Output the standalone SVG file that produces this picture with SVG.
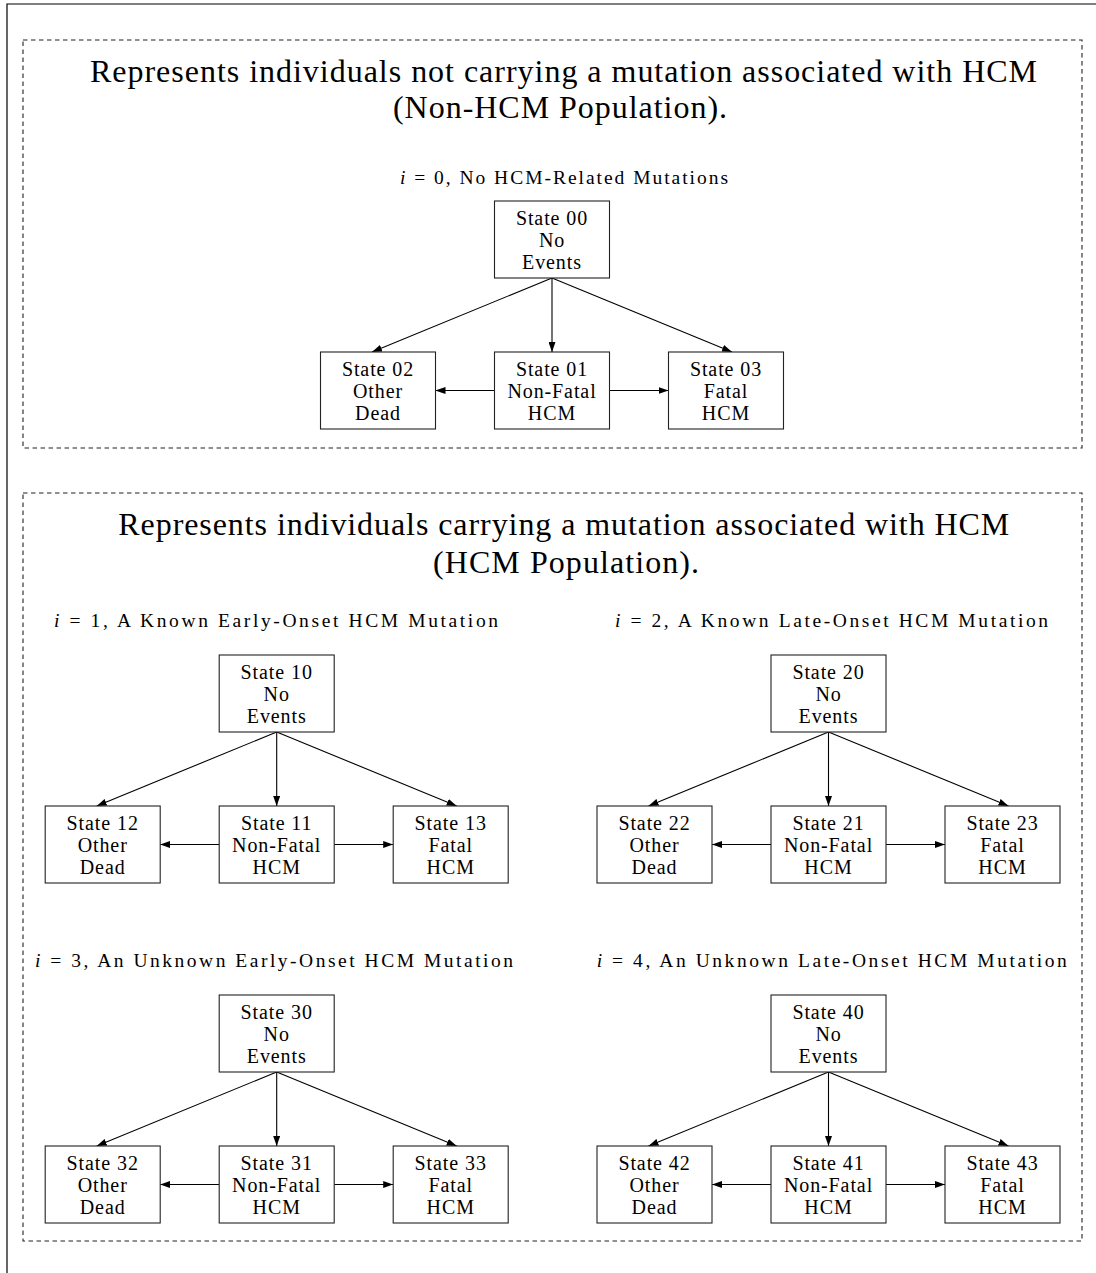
<svg xmlns="http://www.w3.org/2000/svg" width="1096" height="1273" viewBox="0 0 1096 1273">
  <style>
    .frame { fill: none; stroke: #000; stroke-width: 1.2; }
    .panel { fill: none; stroke: #222; stroke-width: 1.1; stroke-dasharray: 4.5 3.5; }
    .box { fill: #fff; stroke: #222; stroke-width: 1.1; }
    .edge { fill: none; stroke: #000; stroke-width: 1.1; }
    text { font-family: "Liberation Serif", "Times New Roman", serif; fill: #000; }
    .title { font-size: 32px; }
    .label { font-size: 19.5px; }
    .node { font-size: 20px; text-anchor: middle; letter-spacing: 0.9px; }
    .math { font-style: italic; }
  </style>
  <defs>
    <marker id="arrow" markerUnits="userSpaceOnUse" markerWidth="10" markerHeight="7" refX="10" refY="3.5" orient="auto">
      <path d="M0,0 L10,3.5 L0,7 z" fill="#000"/>
    </marker>
  </defs>

  <rect width="1096" height="1273" fill="#fff"/>
  <!-- outer frame: only the top and left edges fall inside the page -->
  <path class="frame" d="M7,1273 V4 H1096"/>

  <!-- population panels -->
  <rect class="panel" x="23" y="40" width="1059" height="408"/>
  <rect class="panel" x="23" y="493" width="1059" height="748"/>

  <!-- panel headings -->
  <g id="heading-nonhcm">
    <text class="title" x="90" y="81.7" textLength="947">Represents individuals not carrying a mutation associated with HCM</text>
    <text class="title" x="393" y="118.3" textLength="334">(Non-HCM Population).</text>
  </g>
  <g id="heading-hcm">
    <text class="title" x="118.3" y="535" textLength="891">Represents individuals carrying a mutation associated with HCM</text>
    <text class="title" x="433" y="573.3" textLength="266">(HCM Population).</text>
  </g>

  <!-- subgroup captions -->
  <text class="label" x="400" y="184.3" textLength="328"><tspan class="math">i</tspan> = 0, No HCM-Related Mutations</text>
  <text class="label" x="54" y="626.7" textLength="444"><tspan class="math">i</tspan> = 1, A Known Early-Onset HCM Mutation</text>
  <text class="label" x="615" y="626.7" textLength="433"><tspan class="math">i</tspan> = 2, A Known Late-Onset HCM Mutation</text>
  <text class="label" x="35" y="966.7" textLength="478"><tspan class="math">i</tspan> = 3, An Unknown Early-Onset HCM Mutation</text>
  <text class="label" x="596.7" y="966.7" textLength="470"><tspan class="math">i</tspan> = 4, An Unknown Late-Onset HCM Mutation</text>

  <!-- transitions -->
  <g id="connectors" marker-end="url(#arrow)">
    <!-- i = 0 -->
    <path class="edge" d="M552,278 V352"/>
    <path class="edge" d="M552,278 L372,352"/>
    <path class="edge" d="M552,278 L732,352"/>
    <path class="edge" d="M494.5,390.5 H435.5"/>
    <path class="edge" d="M609.5,390.5 H668.5"/>
    <!-- i = 1 -->
    <path class="edge" d="M276.7,732 V806"/>
    <path class="edge" d="M276.7,732 L96.7,806"/>
    <path class="edge" d="M276.7,732 L456.7,806"/>
    <path class="edge" d="M219.2,844.5 H160.2"/>
    <path class="edge" d="M334.2,844.5 H393.2"/>
    <!-- i = 2 -->
    <path class="edge" d="M828.5,732 V806"/>
    <path class="edge" d="M828.5,732 L648.5,806"/>
    <path class="edge" d="M828.5,732 L1008.5,806"/>
    <path class="edge" d="M771,844.5 H712"/>
    <path class="edge" d="M886,844.5 H945"/>
    <!-- i = 3 -->
    <path class="edge" d="M276.7,1072 V1146"/>
    <path class="edge" d="M276.7,1072 L96.7,1146"/>
    <path class="edge" d="M276.7,1072 L456.7,1146"/>
    <path class="edge" d="M219.2,1184.5 H160.2"/>
    <path class="edge" d="M334.2,1184.5 H393.2"/>
    <!-- i = 4 -->
    <path class="edge" d="M828.5,1072 V1146"/>
    <path class="edge" d="M828.5,1072 L648.5,1146"/>
    <path class="edge" d="M828.5,1072 L1008.5,1146"/>
    <path class="edge" d="M771,1184.5 H712"/>
    <path class="edge" d="M886,1184.5 H945"/>
  </g>

  <!-- i = 0 states -->
  <g id="state00">
    <rect class="box" x="494.5" y="201" width="115" height="77"/>
    <text class="node" x="552" y="224.5">State 00</text>
    <text class="node" x="552" y="246.7">No</text>
    <text class="node" x="552" y="269">Events</text>
  </g>
  <g id="state02">
    <rect class="box" x="320.5" y="352" width="115" height="77"/>
    <text class="node" x="378" y="375.5">State 02</text>
    <text class="node" x="378" y="397.7">Other</text>
    <text class="node" x="378" y="420">Dead</text>
  </g>
  <g id="state01">
    <rect class="box" x="494.5" y="352" width="115" height="77"/>
    <text class="node" x="552" y="375.5">State 01</text>
    <text class="node" x="552" y="397.7">Non-Fatal</text>
    <text class="node" x="552" y="420">HCM</text>
  </g>
  <g id="state03">
    <rect class="box" x="668.5" y="352" width="115" height="77"/>
    <text class="node" x="726" y="375.5">State 03</text>
    <text class="node" x="726" y="397.7">Fatal</text>
    <text class="node" x="726" y="420">HCM</text>
  </g>

  <!-- i = 1 states -->
  <g id="state10">
    <rect class="box" x="219.2" y="655" width="115" height="77"/>
    <text class="node" x="276.7" y="678.5">State 10</text>
    <text class="node" x="276.7" y="700.7">No</text>
    <text class="node" x="276.7" y="723">Events</text>
  </g>
  <g id="state12">
    <rect class="box" x="45.2" y="806" width="115" height="77"/>
    <text class="node" x="102.7" y="829.5">State 12</text>
    <text class="node" x="102.7" y="851.7">Other</text>
    <text class="node" x="102.7" y="874">Dead</text>
  </g>
  <g id="state11">
    <rect class="box" x="219.2" y="806" width="115" height="77"/>
    <text class="node" x="276.7" y="829.5">State 11</text>
    <text class="node" x="276.7" y="851.7">Non-Fatal</text>
    <text class="node" x="276.7" y="874">HCM</text>
  </g>
  <g id="state13">
    <rect class="box" x="393.2" y="806" width="115" height="77"/>
    <text class="node" x="450.7" y="829.5">State 13</text>
    <text class="node" x="450.7" y="851.7">Fatal</text>
    <text class="node" x="450.7" y="874">HCM</text>
  </g>

  <!-- i = 2 states -->
  <g id="state20">
    <rect class="box" x="771" y="655" width="115" height="77"/>
    <text class="node" x="828.5" y="678.5">State 20</text>
    <text class="node" x="828.5" y="700.7">No</text>
    <text class="node" x="828.5" y="723">Events</text>
  </g>
  <g id="state22">
    <rect class="box" x="597" y="806" width="115" height="77"/>
    <text class="node" x="654.5" y="829.5">State 22</text>
    <text class="node" x="654.5" y="851.7">Other</text>
    <text class="node" x="654.5" y="874">Dead</text>
  </g>
  <g id="state21">
    <rect class="box" x="771" y="806" width="115" height="77"/>
    <text class="node" x="828.5" y="829.5">State 21</text>
    <text class="node" x="828.5" y="851.7">Non-Fatal</text>
    <text class="node" x="828.5" y="874">HCM</text>
  </g>
  <g id="state23">
    <rect class="box" x="945" y="806" width="115" height="77"/>
    <text class="node" x="1002.5" y="829.5">State 23</text>
    <text class="node" x="1002.5" y="851.7">Fatal</text>
    <text class="node" x="1002.5" y="874">HCM</text>
  </g>

  <!-- i = 3 states -->
  <g id="state30">
    <rect class="box" x="219.2" y="995" width="115" height="77"/>
    <text class="node" x="276.7" y="1018.5">State 30</text>
    <text class="node" x="276.7" y="1040.7">No</text>
    <text class="node" x="276.7" y="1063">Events</text>
  </g>
  <g id="state32">
    <rect class="box" x="45.2" y="1146" width="115" height="77"/>
    <text class="node" x="102.7" y="1169.5">State 32</text>
    <text class="node" x="102.7" y="1191.7">Other</text>
    <text class="node" x="102.7" y="1214">Dead</text>
  </g>
  <g id="state31">
    <rect class="box" x="219.2" y="1146" width="115" height="77"/>
    <text class="node" x="276.7" y="1169.5">State 31</text>
    <text class="node" x="276.7" y="1191.7">Non-Fatal</text>
    <text class="node" x="276.7" y="1214">HCM</text>
  </g>
  <g id="state33">
    <rect class="box" x="393.2" y="1146" width="115" height="77"/>
    <text class="node" x="450.7" y="1169.5">State 33</text>
    <text class="node" x="450.7" y="1191.7">Fatal</text>
    <text class="node" x="450.7" y="1214">HCM</text>
  </g>

  <!-- i = 4 states -->
  <g id="state40">
    <rect class="box" x="771" y="995" width="115" height="77"/>
    <text class="node" x="828.5" y="1018.5">State 40</text>
    <text class="node" x="828.5" y="1040.7">No</text>
    <text class="node" x="828.5" y="1063">Events</text>
  </g>
  <g id="state42">
    <rect class="box" x="597" y="1146" width="115" height="77"/>
    <text class="node" x="654.5" y="1169.5">State 42</text>
    <text class="node" x="654.5" y="1191.7">Other</text>
    <text class="node" x="654.5" y="1214">Dead</text>
  </g>
  <g id="state41">
    <rect class="box" x="771" y="1146" width="115" height="77"/>
    <text class="node" x="828.5" y="1169.5">State 41</text>
    <text class="node" x="828.5" y="1191.7">Non-Fatal</text>
    <text class="node" x="828.5" y="1214">HCM</text>
  </g>
  <g id="state43">
    <rect class="box" x="945" y="1146" width="115" height="77"/>
    <text class="node" x="1002.5" y="1169.5">State 43</text>
    <text class="node" x="1002.5" y="1191.7">Fatal</text>
    <text class="node" x="1002.5" y="1214">HCM</text>
  </g>
</svg>
